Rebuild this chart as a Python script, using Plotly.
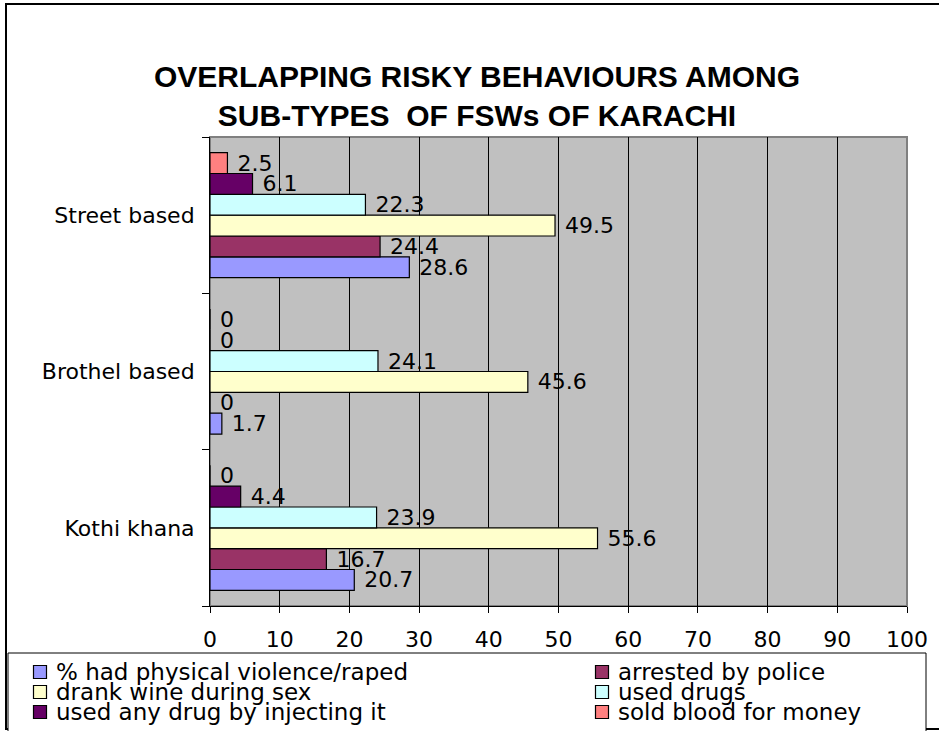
import plotly.graph_objects as go

# Sub-types of female sex workers (bottom to top on the axis)
categories = ["Kothi khana", "Brothel based", "Street based"]

# Percentage reporting each behaviour
violence = [20.7, 1.7, 28.6]
arrested = [16.7, 0, 24.4]
wine = [55.6, 45.6, 49.5]
drugs = [23.9, 24.1, 22.3]
injecting = [4.4, 0, 6.1]
blood = [0, 0, 2.5]

series_names = [
    "% had physical violence/raped",
    "arrested by police",
    "drank wine during sex",
    "used drugs",
    "used any drug by injecting it",
    "sold blood for money",
]
series_values = [violence, arrested, wine, drugs, injecting, blood]
series_colors = ["#9999FF", "#993366", "#FFFFCC", "#CCFFFF", "#660066", "#FF8080"]

x_ticks = list(range(0, 101, 10))

W, H = 939, 731
ML, MR, MT, MB = 210, 32, 137, 125
PW, PH = W - ML - MR, H - MT - MB


def px_x(px):
    return (px - ML) / PW


def px_y(py):
    return (H - MB - py) / PH


FONT = "DejaVu Sans, Arial, sans-serif"
TITLE_FONT = "Liberation Sans, Arial, sans-serif"

fig = go.Figure()
for name, vals, col in zip(series_names, series_values, series_colors):
    fig.add_trace(go.Bar(
        y=categories,
        x=vals,
        name=name,
        orientation="h",
        marker=dict(color=col, line=dict(color="black", width=1.2)),
        text=[f"\u00a0{v:g}" for v in vals],
        textposition="outside",
        textfont=dict(family=FONT, size=22, color="black"),
        constraintext="none",
        cliponaxis=False,
        showlegend=False,
    ))

shapes = [
    # outer chart frame
    dict(type="rect", xref="paper", yref="paper",
         x0=px_x(6), x1=px_x(990), y0=px_y(4), y1=px_y(729),
         line=dict(color="black", width=2), layer="below"),
    # plot area frame
    dict(type="rect", xref="paper", yref="paper",
         x0=0, x1=1, y0=0, y1=1,
         line=dict(color="#808080", width=2), layer="below"),
    # legend frame
    dict(type="rect", xref="paper", yref="paper",
         x0=px_x(8), x1=px_x(926), y0=px_y(653), y1=px_y(760),
         line=dict(color="black", width=1), fillcolor="white", layer="below"),
]

# Legend: two columns, filled row by row
annotations = []
col_sq = [40, 602]
row_y = [672, 692, 712]
for i, (name, col) in enumerate(zip(series_names, series_colors)):
    r, c = divmod(i, 2)
    cx, cy = col_sq[c], row_y[r]
    shapes.append(dict(type="rect", xref="paper", yref="paper",
                       x0=px_x(cx - 6.5), x1=px_x(cx + 6.5),
                       y0=px_y(cy + 6.5), y1=px_y(cy - 6.5),
                       line=dict(color="black", width=1.2), fillcolor=col))
    annotations.append(dict(xref="paper", yref="paper",
                            x=px_x(cx + 14), y=px_y(cy),
                            xanchor="left", yanchor="middle",
                            text=name, showarrow=False,
                            font=dict(family=FONT, size=23, color="black")))

fig.update_layout(
    width=W, height=H,
    margin=dict(l=ML, r=MR, t=MT, b=MB, pad=0, autoexpand=False),
    paper_bgcolor="white",
    plot_bgcolor="#C0C0C0",
    barmode="group",
    bargap=0.2,
    bargroupgap=0,
    showlegend=False,
    font=dict(family=FONT, size=22, color="black"),
    title=dict(
        text="<b>OVERLAPPING RISKY BEHAVIOURS AMONG<br>SUB-TYPES\u00a0 OF FSWs OF KARACHI</b>",
        x=477 / W, xanchor="center", xref="container",
        y=1 - 87 / H, yanchor="middle", yref="container",
        font=dict(family=TITLE_FONT, size=30, color="black"),
    ),
    xaxis=dict(
        range=[0, 100], tickvals=x_ticks, ticktext=[str(t) for t in x_ticks],
        showgrid=True, gridcolor="black", gridwidth=1,
        ticks="outside", ticklen=6, tickcolor="black",
        showline=True, linecolor="black", linewidth=1,
        zeroline=False, tickfont=dict(size=22), ticklabelstandoff=8,
    ),
    yaxis=dict(
        type="category", categoryorder="array", categoryarray=categories,
        showgrid=False, tickson="boundaries",
        ticks="outside", ticklen=7, tickcolor="black",
        showline=True, linecolor="black", linewidth=1,
        tickfont=dict(size=22), ticklabelstandoff=10,
    ),
    shapes=shapes,
    annotations=annotations,
)

fig.write_html("out.html")
